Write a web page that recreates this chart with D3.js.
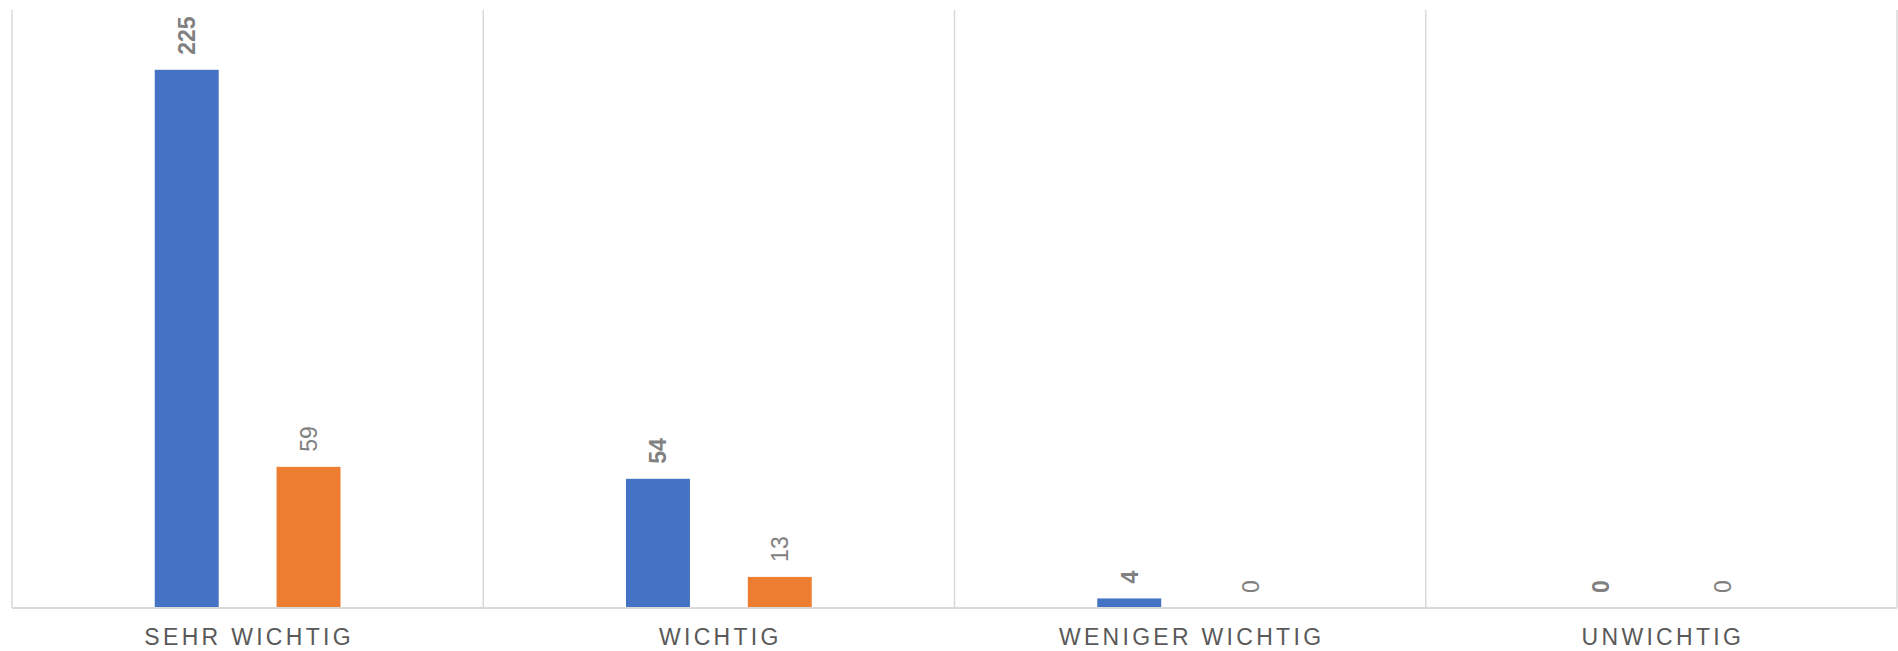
<!DOCTYPE html>
<html><head><meta charset="utf-8">
<script src="https://cdn.jsdelivr.net/npm/d3@7"></script>
<style>html,body{margin:0;padding:0;background:#fff;}svg{display:block;font-family:Arial,"Liberation Sans",sans-serif;}</style>
</head><body>
<script>
const categories = ["SEHR WICHTIG", "WICHTIG", "WENIGER WICHTIG", "UNWICHTIG"];
const seriesNames = ["Serie 1", "Serie 2"];
const series1 = [225, 54, 4, 0];
const series2 = [59, 13, 0, 0];
const colors = ["#4472C4", "#ED7D31"];
const yMax = 250;

const W = 1898, H = 651;
const plotLeft = 12, plotRight = 1897, plotTop = 10, plotBottom = 608;

const svg = d3.select("body").append("svg").attr("width", W).attr("height", H);

const x0 = d3.scaleBand().domain(categories).range([plotLeft, plotRight]).paddingInner(0).paddingOuter(0);
const x1 = d3.scaleBand().domain(seriesNames).range([0, x0.bandwidth()]).paddingInner(0.475).paddingOuter(1.172);
const y = d3.scaleLinear().domain([0, yMax]).range([plotBottom, plotTop]);

// vertical gridlines at category boundaries
const bounds = categories.map(c => x0(c)).concat([plotRight]);
svg.append("g").selectAll("line").data(bounds).join("line")
  .attr("x1", d => d).attr("x2", d => d).attr("y1", plotTop).attr("y2", plotBottom)
  .attr("stroke", "#d9d9d9").attr("stroke-width", 1.5);

const data = categories.map((c, i) => ({cat: c, vals: [series1[i], series2[i]]}));

const groups = svg.append("g").selectAll("g").data(data).join("g")
  .attr("transform", d => `translate(${x0(d.cat)},0)`);

groups.selectAll("rect").data(d => d.vals.map((v, j) => ({v, j})))
  .join("rect")
  .attr("x", d => x1(seriesNames[d.j]))
  .attr("width", x1.bandwidth())
  .attr("y", d => y(d.v))
  .attr("height", d => plotBottom - y(d.v))
  .attr("fill", d => colors[d.j]);

groups.selectAll("text").data(d => d.vals.map((v, j) => ({v, j})))
  .join("text")
  .attr("transform", d => `translate(${x1(seriesNames[d.j]) + x1.bandwidth() / 2},${y(d.v) - 15}) rotate(-90)`)
  .attr("dy", "0.36em")
  .attr("text-anchor", "start")
  .attr("font-size", 23)
  .attr("font-weight", d => d.j === 0 ? "bold" : "normal")
  .attr("fill", "#808080")
  .text(d => d.v);

// axis line
svg.append("line").attr("x1", plotLeft).attr("x2", plotRight).attr("y1", plotBottom).attr("y2", plotBottom)
  .attr("stroke", "#d9d9d9").attr("stroke-width", 2);

// category labels
svg.append("g").selectAll("text").data(categories).join("text")
  .attr("x", d => x0(d) + x0.bandwidth() / 2 + 1.5)
  .attr("y", 645)
  .attr("text-anchor", "middle")
  .attr("font-size", 23)
  .attr("letter-spacing", "3.3px")
  .attr("fill", "#595959")
  .text(d => d);
</script>
</body></html>
